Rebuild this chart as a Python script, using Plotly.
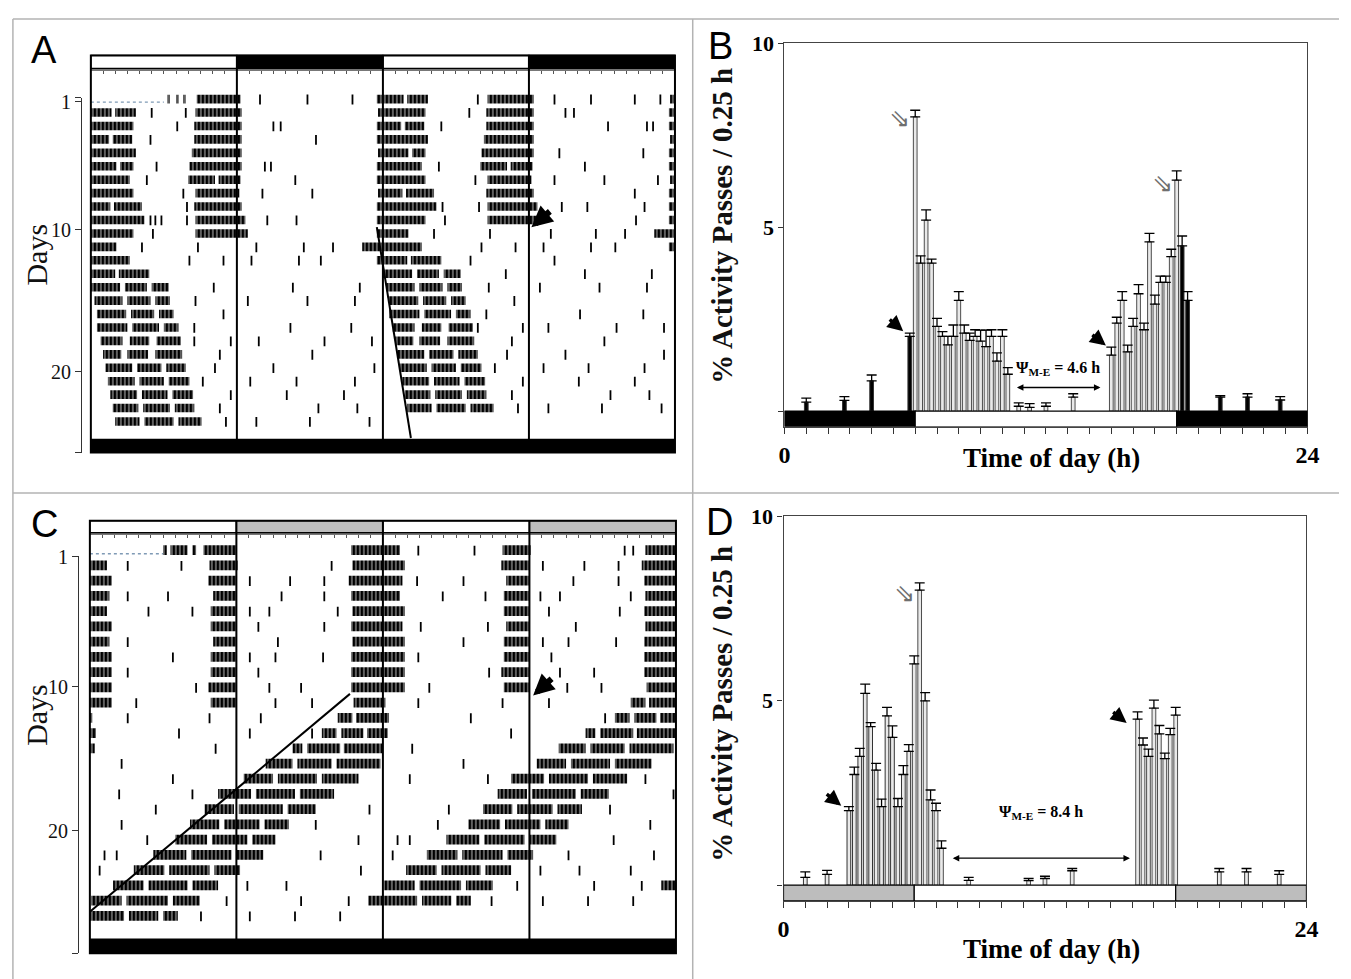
import plotly.graph_objects as go

W, H = 1351, 979

# ------------------------------------------------------------------ DATA
# Panel B : mean % activity per 0.25 h bin (LD) and top of its error bar
B_hour = [1.0, 2.75, 4.0, 5.75, 6.0, 6.25, 6.5, 6.75, 7.0, 7.25, 7.5, 7.75, 8.0, 8.25, 8.5,
          8.75, 9.0, 9.25, 9.5, 9.75, 10.0, 10.25, 10.75, 11.25, 12.0, 13.25, 15.0, 15.25,
          15.5, 15.75, 16.0, 16.25, 16.5, 16.75, 17.0, 17.25, 17.5, 17.75, 18.0, 18.25, 18.5,
          20.0, 21.25, 22.75]
B_mean = [0.24, 0.29, 0.82, 2.03, 8.0, 4.02, 5.19, 4.02, 2.3, 2.03, 1.8, 2.03, 3.01, 2.12, 1.92,
          2.03, 1.9, 1.75, 2.03, 1.36, 2.03, 1.0, 0.13, 0.1, 0.13, 0.38, 1.52, 2.39,
          3.01, 1.61, 2.3, 3.19, 2.21, 4.6, 2.91, 3.5, 3.5, 4.2, 6.28, 4.49, 3.01,
          0.38, 0.38, 0.3]
B_top = [0.35, 0.39, 0.98, 2.12, 8.18, 4.22, 5.47, 4.13, 2.52, 2.16, 2.03, 2.34, 3.25, 2.34, 2.12,
         2.21, 2.2, 2.2, 2.21, 1.58, 2.21, 1.18, 0.22, 0.2, 0.22, 0.47, 1.74, 2.55,
         3.25, 1.79, 2.52, 3.44, 2.39, 4.83, 3.15, 3.67, 3.67, 4.4, 6.53, 4.76, 3.25,
         0.42, 0.47, 0.39]

# Panel D : mean % activity per 0.25 h bin (LDim) and top of its error bar
D_hour = [1.0, 2.0, 3.0, 3.25, 3.5, 3.75, 4.0, 4.25, 4.5, 4.75, 5.0, 5.25, 5.5, 5.75, 6.0, 6.25,
          6.5, 6.75, 7.0, 7.25, 8.5, 11.25, 12.0, 13.25, 16.25, 16.5, 16.75, 17.0, 17.25, 17.5,
          17.75, 18.0, 20.0, 21.25, 22.75]
D_mean = [0.21, 0.29, 2.02, 3.0, 3.49, 5.2, 4.3, 3.12, 2.13, 4.59, 4.01, 2.13, 3.0, 3.63, 6.0, 8.0,
          5.0, 2.31, 2.02, 1.0, 0.13, 0.12, 0.18, 0.39, 4.5, 3.8, 3.49, 4.8, 4.1, 3.43,
          4.08, 4.61, 0.36, 0.36, 0.29]
D_top = [0.36, 0.40, 2.13, 3.2, 3.71, 5.45, 4.41, 3.3, 2.33, 4.82, 4.32, 2.35, 3.24, 3.81, 6.22, 8.2,
         5.22, 2.58, 2.22, 1.2, 0.21, 0.18, 0.24, 0.45, 4.7, 3.99, 3.69, 5.02, 4.33, 3.58,
         4.25, 4.82, 0.45, 0.45, 0.39]

LIGHTS_ON, LIGHTS_OFF = 6.0, 18.0          # clock time of the light phase
B_psi = [10.6, 14.5]                         # span of the Psi(M-E) arrow, panel B
D_psi = [7.7, 15.9]                          # span of the Psi(M-E) arrow, panel D

# Actogram A : activity bouts (day, start ZT h, end ZT h)
A_bouts = [
    (1, 6.3, 6.5), (1, 7.0, 7.2), (1, 7.6, 7.8), (1, 8.7, 12.3), (1, 23.5, 24.0),
    (2, 0.0, 1.7), (2, 2.0, 3.7), (2, 8.6, 12.4), (2, 23.6, 24.0),
    (3, 0.0, 3.5), (3, 8.5, 12.4), (3, 23.5, 24.0),
    (4, 0.0, 1.5), (4, 1.8, 3.4), (4, 8.5, 12.4), (4, 23.5, 24.0),
    (5, 0.0, 3.7), (5, 8.3, 12.4), (5, 23.6, 24.0),
    (6, 0.0, 2.1), (6, 2.4, 3.5), (6, 8.1, 12.4), (6, 23.5, 24.0),
    (7, 0.0, 3.2), (7, 8.0, 10.2), (7, 10.5, 12.3), (7, 23.5, 24.0),
    (8, 0.0, 3.5), (8, 8.6, 12.2), (8, 23.6, 24.0),
    (9, 0.0, 1.6), (9, 1.9, 4.2), (9, 8.5, 12.4), (9, 23.5, 24.0),
    (10, 0.0, 4.4), (10, 8.6, 12.7), (10, 23.5, 24.0),
    (11, 0.0, 3.5), (11, 8.6, 12.9), (11, 23.5, 24.0),
    (12, 0.0, 2.1), (12, 22.3, 24.0),
    (13, 0.0, 3.2), (13, 23.5, 24.0),
    (14, 0.0, 2.0), (14, 2.3, 4.8),
    (15, 0.0, 2.4), (15, 2.8, 4.6), (15, 5.0, 6.4),
    (16, 0.3, 2.6), (16, 3.0, 4.9), (16, 5.3, 6.5),
    (17, 0.5, 2.9), (17, 3.3, 5.2), (17, 5.6, 6.8),
    (18, 0.5, 3.0), (18, 3.4, 5.6), (18, 6.0, 7.2),
    (19, 0.8, 2.6), (19, 3.2, 4.8), (19, 5.4, 7.4),
    (20, 1.0, 2.5), (20, 3.0, 4.7), (20, 5.3, 7.5),
    (21, 1.2, 3.4), (21, 3.8, 5.8), (21, 6.2, 7.8),
    (22, 1.4, 3.6), (22, 4.0, 6.0), (22, 6.4, 8.1),
    (23, 1.6, 3.8), (23, 4.2, 6.3), (23, 6.7, 8.4),
    (24, 1.8, 3.9), (24, 4.3, 6.5), (24, 6.9, 8.5),
    (25, 2.0, 4.0), (25, 4.4, 6.8), (25, 7.2, 9.1),
]
# isolated activity counts: (row, hour on the 48 h double plot)
A_ticks = [
    (1, 13.9), (1, 17.8), (1, 21.5), (1, 31.8), (1, 38.1), (1, 41.1), (1, 44.7), (1, 46.8),
    (2, 5.0), (2, 7.8), (2, 31.1), (2, 39.0), (2, 39.7),
    (3, 7.1), (3, 15.0), (3, 15.6), (3, 28.8), (3, 42.5), (3, 45.7), (3, 46.2),
    (4, 4.9), (4, 18.5),
    (5, 38.5), (5, 45.4),
    (6, 5.4), (6, 14.3), (6, 14.8), (6, 28.6), (6, 40.6),
    (7, 4.6), (7, 16.8), (7, 31.6), (7, 38.1), (7, 42.2), (7, 46.6),
    (8, 7.6), (8, 14.1), (8, 18.2), (8, 44.7),
    (9, 7.9), (9, 28.9), (9, 31.9), (9, 38.7), (9, 40.8), (9, 45.5),
    (10, 4.9), (10, 5.3), (10, 5.8), (10, 7.9), (10, 14.5), (10, 16.9), (10, 29.1), (10, 44.8),
    (11, 5.1), (11, 28.2), (11, 32.8), (11, 37.8), (11, 41.5), (11, 43.9),
    (12, 4.2), (12, 8.8), (12, 13.6), (12, 17.5), (12, 19.9), (12, 32.1), (12, 34.9),
    (12, 37.2), (12, 41.1), (12, 43.1),
    (13, 8.1), (13, 10.9), (13, 13.2), (13, 17.1), (13, 18.9), (13, 31.2), (13, 38.1),
    (14, 34.1), (14, 40.6), (14, 46.1),
    (15, 10.1), (15, 16.6), (15, 22.1), (15, 32.7), (15, 36.9), (15, 41.8), (15, 45.7),
    (16, 8.6), (16, 12.9), (16, 17.8), (16, 21.7), (16, 34.8),
    (17, 10.9), (17, 32.5), (17, 40.2), (17, 45.4),
    (18, 8.5), (18, 16.4), (18, 21.4), (18, 31.8), (18, 35.5), (18, 37.6), (18, 43.2), (18, 47.1),
    (19, 8.5), (19, 11.5), (19, 13.8), (19, 19.2), (19, 23.1), (19, 34.6), (19, 42.2),
    (20, 10.6), (20, 18.2), (20, 34.2), (20, 39.0), (20, 47.1),
    (21, 10.2), (21, 15.0), (21, 23.3), (21, 33.2), (21, 37.2), (21, 40.9), (21, 45.5),
    (22, 9.2), (22, 13.1), (22, 16.9), (22, 21.7), (22, 35.5), (22, 40.1), (22, 44.7),
    (23, 11.5), (23, 16.1), (23, 20.8), (23, 34.6), (23, 42.7), (23, 45.9),
    (24, 10.6), (24, 18.7), (24, 21.9), (24, 35.1), (24, 37.6), (24, 42.0), (24, 46.9),
    (25, 11.1), (25, 13.6), (25, 18.0), (25, 22.9),
]
A_rows = 25
A_record_start = 6.0
A_fit_x = [23.5, 26.3]
A_fit_row = [10.2, 25.9]
A_marker = (36.2, 10.2)          # black arrow (hour48, row)

# Actogram C : activity bouts (day, start ZT h, end ZT h)
C_bouts = [
    (1, 6.0, 6.3), (1, 6.6, 8.0), (1, 8.4, 8.7), (1, 9.3, 12.0), (1, 21.4, 24.0),
    (2, 0.0, 1.4), (2, 9.8, 12.1), (2, 21.5, 24.0),
    (3, 0.0, 1.8), (3, 9.7, 12.0), (3, 21.2, 24.0),
    (4, 0.0, 1.6), (4, 10.1, 12.0), (4, 21.4, 24.0),
    (5, 0.0, 1.4), (5, 9.9, 12.0), (5, 21.5, 24.0),
    (6, 0.0, 1.8), (6, 9.9, 12.0), (6, 21.4, 24.0),
    (7, 0.0, 1.6), (7, 10.1, 12.0), (7, 21.5, 24.0),
    (8, 0.0, 1.8), (8, 9.9, 12.0), (8, 21.4, 24.0),
    (9, 0.0, 1.8), (9, 9.9, 12.0), (9, 21.4, 24.0),
    (10, 0.0, 1.8), (10, 9.7, 12.0), (10, 21.4, 24.0),
    (11, 0.0, 1.8), (11, 9.9, 12.0), (11, 21.6, 24.0),
    (12, 0.0, 0.2), (12, 20.3, 21.5), (12, 21.8, 24.0),
    (13, 0.0, 0.5), (13, 19.0, 20.2), (13, 20.6, 22.4), (13, 22.7, 24.0),
    (14, 0.0, 0.4), (14, 16.6, 17.4), (14, 17.8, 20.5), (14, 20.8, 24.0),
    (15, 14.4, 16.6), (15, 17.0, 19.8), (15, 20.2, 23.8),
    (16, 12.6, 15.0), (16, 15.4, 18.6), (16, 19.0, 22.0),
    (17, 10.5, 13.2), (17, 13.6, 16.8), (17, 17.2, 20.0),
    (18, 9.4, 11.8), (18, 12.2, 15.8), (18, 16.2, 18.5),
    (19, 8.2, 10.6), (19, 11.0, 13.9), (19, 14.3, 16.3),
    (20, 7.0, 9.6), (20, 10.0, 12.9), (20, 13.3, 15.2),
    (21, 5.2, 7.9), (21, 8.3, 11.6), (21, 12.0, 14.2),
    (22, 3.6, 6.1), (22, 6.5, 9.8), (22, 10.2, 12.3),
    (23, 1.9, 4.4), (23, 4.8, 8.0), (23, 8.4, 10.5),
    (24, 0.1, 2.6), (24, 3.0, 6.4), (24, 6.8, 9.0), (24, 22.8, 24.0),
    (25, 0.0, 2.8), (25, 3.2, 5.6), (25, 6.0, 7.2),
]
C_ticks = [
    (1, 26.9), (1, 31.5), (1, 43.8), (1, 44.5),
    (2, 3.1), (2, 7.5), (2, 19.8), (2, 37.1), (2, 40.5), (2, 43.3),
    (3, 13.1), (3, 16.4), (3, 19.2), (3, 26.8), (3, 30.6), (3, 39.6), (3, 43.3),
    (4, 3.1), (4, 6.4), (4, 15.7), (4, 19.2), (4, 28.9), (4, 32.4), (4, 36.9), (4, 38.5), (4, 44.3),
    (5, 4.8), (5, 8.4), (5, 13.1), (5, 14.7), (5, 20.3), (5, 37.6), (5, 43.4),
    (6, 13.8), (6, 19.2), (6, 27.1), (6, 32.6), (6, 39.8),
    (7, 3.1), (7, 15.4), (7, 30.6), (7, 37.1), (7, 39.2), (7, 43.1),
    (8, 6.8), (8, 13.1), (8, 15.2), (8, 19.1), (8, 26.9), (8, 37.8),
    (9, 3.1), (9, 13.8), (9, 32.7), (9, 38.5), (9, 41.3),
    (10, 8.7), (10, 14.7), (10, 17.3), (10, 27.8), (10, 39.1), (10, 41.9),
    (11, 3.8), (11, 15.2), (11, 18.2), (11, 26.9), (11, 33.8), (11, 37.6),
    (12, 3.1), (12, 9.8), (12, 14.0), (12, 31.2), (12, 42.2),
    (13, 7.3), (13, 13.1), (13, 18.2), (13, 34.5),
    (14, 10.3), (14, 26.4),
    (15, 2.6), (15, 30.6),
    (16, 6.8), (16, 26.2), (16, 32.6), (16, 45.5),
    (17, 2.4), (17, 8.4), (17, 47.8),
    (18, 5.4), (18, 22.9), (18, 29.4), (18, 42.6),
    (19, 2.6), (19, 18.5), (19, 28.5), (19, 45.9),
    (20, 4.7), (20, 22.0), (20, 25.2), (20, 26.2), (20, 42.9),
    (21, 1.2), (21, 2.2), (21, 18.9), (21, 24.8), (21, 39.2), (21, 46.2),
    (22, 0.8), (22, 22.2), (22, 36.9), (22, 40.1), (22, 44.3),
    (23, 12.9), (23, 16.1), (23, 35.0), (23, 41.3), (23, 45.2),
    (24, 11.2), (24, 17.3), (24, 21.2), (24, 32.9), (24, 37.1), (24, 40.8), (24, 44.5),
    (25, 9.1), (25, 13.1), (25, 16.8), (25, 20.5),
]
C_rows = 25
C_record_start = 6.0
C_fit_x = [21.3, 0.0]
C_fit_row = [10.1, 24.4]
C_marker = (36.3, 10.2)

DAY_TICKS = [1, 10, 20]


# ------------------------------------------------------------------ HELPERS
def xd(p0, p1):
    return [p0 / W, p1 / W]


def yd(top, bot):
    return [1 - bot / H, 1 - top / H]


def py(p):
    return 1 - p / H


SERIF = "Liberation Serif"
SANS = "Liberation Sans"

fig = go.Figure()
shapes = []
annotations = []


def actogram(bouts, ticks, n_rows, rec_start, fit_x, fit_row, xa, ya, night_col,
             frame, bar_top_px, bar_bot_px, bottom_px):
    # double plot: day d on row d (0-24 h) and on row d-1 (24-48 h)
    ys, bases, lens = [], [], []
    for d, s, e in bouts:
        if d <= n_rows:
            ys.append(d - 0.33); bases.append(s); lens.append(e - s)
        if d - 1 >= 1:
            ys.append(d - 1 - 0.33); bases.append(s + 24); lens.append(e - s)
    fig.add_trace(go.Bar(
        x=lens, base=bases, y=ys, orientation="h", width=0.64,
        marker=dict(color="black", line=dict(width=0),
                    pattern=dict(shape="|", fgcolor="white", bgcolor="black",
                                 size=4, solidity=0.38)),
        xaxis=xa, yaxis=ya, showlegend=False, hoverinfo="skip"))
    fig.add_trace(go.Scatter(
        x=[t[1] for t in ticks], y=[t[0] - 0.3 for t in ticks], mode="markers",
        marker=dict(symbol="line-ns", size=7, line=dict(width=1.8, color="black")),
        xaxis=xa, yaxis=ya, showlegend=False, hoverinfo="skip"))
    fig.add_trace(go.Scatter(
        x=[0, rec_start], y=[1 - 0.1, 1 - 0.1], mode="lines",
        line=dict(color="#7f9ab5", width=1.3, dash="dot"),
        xaxis=xa, yaxis=ya, showlegend=False, hoverinfo="skip"))
    fig.add_trace(go.Scatter(
        x=fit_x, y=fit_row, mode="lines", line=dict(color="black", width=2),
        xaxis=xa, yaxis=ya, showlegend=False, hoverinfo="skip"))
    xr = xa
    # light schedule bar (12 h light / 12 h dark, double plotted)
    for k in range(4):
        col = "white" if k % 2 == 0 else night_col
        shapes.append(dict(type="rect", xref=xr, yref="paper", x0=12 * k, x1=12 * (k + 1),
                           y0=py(bar_bot_px), y1=py(bar_top_px), fillcolor=col,
                           line=dict(color="black", width=1.2), layer="above"))
    # constant darkness bar at the bottom
    shapes.append(dict(type="rect", xref=xr, yref="paper", x0=0, x1=48,
                       y0=py(frame[3]), y1=py(bottom_px), fillcolor="black",
                       line=dict(width=0), layer="above"))
    for k in (12, 24, 36):
        shapes.append(dict(type="line", xref=xr, yref="paper", x0=k, x1=k,
                           y0=py(frame[3]), y1=py(frame[1]),
                           line=dict(color="black", width=2), layer="above"))
    shapes.append(dict(type="rect", xref="paper", yref="paper",
                       x0=frame[0] / W, x1=frame[2] / W, y0=py(frame[3]), y1=py(frame[1]),
                       line=dict(color="black", width=2), layer="above"))


def histogram(hours, mean, top, xa, ya, night_col, dark_fill, psi, psi_txt, psi_y, txt_y):
    light = [i for i, h in enumerate(hours) if LIGHTS_ON <= h <= LIGHTS_OFF]
    dark = [i for i, h in enumerate(hours) if not (LIGHTS_ON <= h <= LIGHTS_OFF)]
    for idx, fill, lc in ((light, "#e9e9e9", "#4d4d4d"), (dark, dark_fill, "#333333")):
        fig.add_trace(go.Bar(
            x=[hours[i] for i in idx], y=[mean[i] for i in idx], width=0.17,
            marker=dict(color=fill, line=dict(color=lc, width=1)),
            error_y=dict(type="data", symmetric=False,
                         array=[top[i] - mean[i] for i in idx],
                         arrayminus=[0] * len(idx), width=5, thickness=1.3, color="black"),
            xaxis=xa, yaxis=ya, showlegend=False, hoverinfo="skip"))
    xr, yr = xa, ya
    for x0, x1, col in ((0, LIGHTS_ON, night_col), (LIGHTS_ON, LIGHTS_OFF, "white"),
                        (LIGHTS_OFF, 24, night_col)):
        shapes.append(dict(type="rect", xref=xr, yref=yr, x0=x0, x1=x1, y0=-0.43, y1=0,
                           fillcolor=col, line=dict(color="black", width=1.2), layer="above"))
    annotations.append(dict(xref=xr, yref=yr, x=psi[1], y=psi_y, ax=psi[0], ay=psi_y,
                            axref=xr, ayref=yr, text="", showarrow=True, arrowhead=2,
                            arrowside="end+start", arrowsize=1, arrowwidth=1.3,
                            arrowcolor="black"))
    annotations.append(dict(xref=xr, yref=yr, x=(psi[0] + psi[1]) / 2, y=txt_y, text=psi_txt,
                            showarrow=False, xanchor="center", yanchor="middle",
                            font=dict(family=SERIF, size=16, color="black")))


def arrow(xr, yr, x, y, ax, ay, w=3.5, size=0.9):
    annotations.append(dict(xref=xr, yref=yr, x=x, y=y, ax=ax, ay=ay, text="",
                            showarrow=True, arrowhead=2, arrowsize=size, arrowwidth=w,
                            arrowcolor="black"))


def open_arrow(xr, yr, x, y):
    annotations.append(dict(xref=xr, yref=yr, x=x, y=y, text="⇘", showarrow=False,
                            xanchor="center", yanchor="middle",
                            font=dict(family="DejaVu Sans", size=25, color="#6f6f6f")))


# ------------------------------------------------------------------ PANELS
actogram(A_bouts, A_ticks, A_rows, A_record_start, A_fit_x, A_fit_row, "x", "y", "black",
         frame=(86, 44, 678, 446), bar_top_px=44, bar_bot_px=57, bottom_px=432)
actogram(C_bouts, C_ticks, C_rows, C_record_start, C_fit_x, C_fit_row, "x3", "y4", "#bdbdbd",
         frame=(85, 515, 679, 953), bar_top_px=515, bar_bot_px=527, bottom_px=938)
for ya, xa in (("y2", "x"), ("y5", "x3")):
    fig.add_trace(go.Scatter(x=[None], y=[None], xaxis=xa, yaxis=ya, showlegend=False))
histogram(B_hour, B_mean, B_top, "x2", "y3", "black", "black", B_psi,
          "<b>Ψ<sub>M-E</sub> = 4.6 h</b>", 0.64, 1.15)
histogram(D_hour, D_mean, D_top, "x4", "y6", "#bdbdbd", "#e9e9e9", D_psi,
          "<b>Ψ<sub>M-E</sub> = 8.4 h</b>", 0.73, 1.98)

arrow("x2", "y3", 5.45, 2.17, -15, -13)
open_arrow("x2", "y3", 5.3, 7.95)
arrow("x2", "y3", 14.75, 1.78, -15, -12)
open_arrow("x2", "y3", 17.33, 6.2)
arrow("x4", "y6", 2.65, 2.15, -16, -13)
open_arrow("x4", "y6", 5.54, 7.9)
arrow("x4", "y6", 15.75, 4.4, -15, -12)
arrow("x", "y", A_marker[0], A_marker[1], 20, -17, w=6, size=0.7)
arrow("x3", "y4", C_marker[0], C_marker[1], 20, -18, w=6, size=0.7)

# ------------------------------------------------------------------ AXES
act_x = dict(range=[0, 48], showgrid=False, zeroline=False, side="top", ticks="inside",
             ticklen=3, tickwidth=1, tickcolor="#555", dtick=1, tick0=0,
             showticklabels=False, showline=True, linecolor="#777", linewidth=2)
act_y = dict(showgrid=False, zeroline=False, showticklabels=False, ticks="", showline=False)


def days_axis(lo, hi, pos, dom):
    return dict(showgrid=False, zeroline=False, tickvals=[lo] + DAY_TICKS + [hi],
                ticktext=[""] + [str(v) for v in DAY_TICKS] + [""], ticks="outside",
                ticklen=6, tickwidth=1.2, tickcolor="#333", showline=True, linecolor="#333",
                linewidth=1.2, anchor="free", position=pos, domain=dom, range=[hi, lo],
                tickfont=dict(family=SERIF, size=20, color="#111"))


hist_x = dict(range=[0, 24], showgrid=False, zeroline=False, tickvals=list(range(25)),
              ticktext=["0"] + [""] * 23 + ["24"], ticks="outside", ticklen=6, tickwidth=1.2,
              tickcolor="#333", showline=True, linecolor="#444", linewidth=1.2, mirror=True,
              tickfont=dict(family=SERIF, size=24, color="black", weight="bold"))
hist_y = dict(range=[-0.43, 10], showgrid=False, zeroline=False, tickvals=[0, 5, 10],
              ticktext=["", "5", "10"], ticks="outside", ticklen=5, tickwidth=1.2,
              tickcolor="#333", showline=True, linecolor="#444", linewidth=1.2, mirror=True,
              tickfont=dict(family=SERIF, size=22, color="black", weight="bold"))

fig.update_layout(
    width=W, height=H, margin=dict(l=0, r=0, t=0, b=0, pad=0), paper_bgcolor="white",
    plot_bgcolor="rgba(0,0,0,0)", barmode="overlay", showlegend=False,
    xaxis=dict(act_x, domain=xd(86, 678), anchor="y"),
    yaxis=dict(act_y, domain=yd(59.5, 446), range=[26.98, -1.44], anchor="x"),
    yaxis2=days_axis(0.72, 25.70, 76 / W, yd(87, 446)),
    xaxis3=dict(act_x, domain=xd(85, 679), anchor="y4"),
    yaxis4=dict(act_y, domain=yd(529.5, 953), range=[27.13, -0.33], anchor="x3"),
    yaxis5=days_axis(0.95, 28.49, 73 / W, yd(551, 953)),
    xaxis2=dict(hist_x, domain=xd(789, 1319), anchor="y3"),
    yaxis3=dict(hist_y, domain=yd(31.7, 420), anchor="x2"),
    xaxis4=dict(hist_x, domain=xd(788, 1318), anchor="y6"),
    yaxis6=dict(hist_y, domain=yd(510.7, 900), anchor="x4"),
)

# panel frame lines
for s in (dict(x0=7, y0=7, x1=7, y1=H), dict(x0=7, y0=7, x1=W, y1=7),
          dict(x0=696, y0=7, x1=696, y1=H), dict(x0=7, y0=487, x1=W, y1=487)):
    shapes.append(dict(type="line", xref="paper", yref="paper", x0=s["x0"] / W, x1=s["x1"] / W,
                       y0=py(s["y0"]), y1=py(s["y1"]), line=dict(color="#b3b3b3", width=1.5)))

for lab, x, y in (("A", 39, 38), ("B", 724, 34), ("C", 39, 518), ("D", 723, 516)):
    annotations.append(dict(xref="paper", yref="paper", x=x / W, y=py(y), text=lab,
                            showarrow=False, xanchor="center", yanchor="middle",
                            font=dict(family=SANS, size=38, color="black")))
for y in (246, 712):
    annotations.append(dict(xref="paper", yref="paper", x=31 / W, y=py(y), text="Days",
                            textangle=-90, showarrow=False, xanchor="center", yanchor="middle",
                            font=dict(family=SERIF, size=30, color="#111")))
for y in (216, 700):
    annotations.append(dict(xref="paper", yref="paper", x=726 / W, y=py(y),
                            text="<b>% Activity Passes / 0.25 h</b>", textangle=-90,
                            showarrow=False, xanchor="center", yanchor="middle",
                            font=dict(family=SERIF, size=29, color="#111")))
for y in (452, 949):
    annotations.append(dict(xref="paper", yref="paper", x=1060 / W, y=py(y),
                            text="<b>Time of day (h)</b>", showarrow=False,
                            xanchor="center", yanchor="middle",
                            font=dict(family=SERIF, size=27, color="black")))

fig.update_layout(shapes=shapes, annotations=annotations)
fig.write_html("out.html", config={"displayModeBar": False},
               post_script="document.body.style.margin='0';document.body.style.overflow='hidden';")
